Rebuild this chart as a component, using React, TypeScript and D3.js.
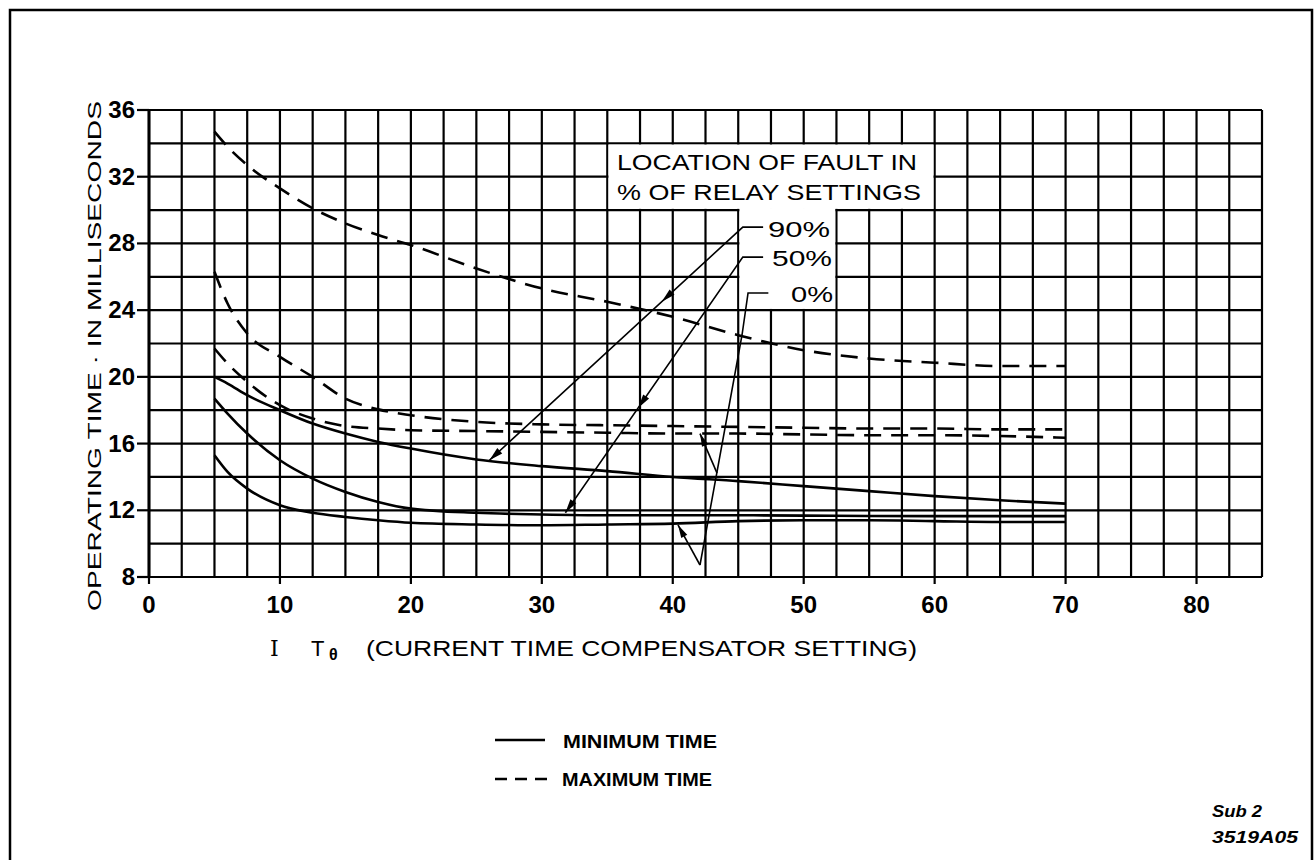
import * as d3 from 'd3'

const W = 1315
const H = 860
const FONT = '"Liberation Sans", Arial, sans-serif'

// axis ticks
const xTicks = [0, 10, 20, 30, 40, 50, 60, 70, 80]
const yTicks = [8, 12, 16, 20, 24, 28, 32, 36]

// curves: operating time (ms) against I Tθ setting
const xPts = [5, 6, 7.5, 10, 12.5, 15, 17.5, 20, 25, 30, 35, 40, 45, 50, 55, 60, 65, 70]
const min90 = [20.0, 19.6, 18.9, 18.0, 17.2, 16.6, 16.1, 15.7, 15.05, 14.65, 14.35, 14.0, 13.75, 13.45, 13.15, 12.85, 12.6, 12.4]
const min50 = [18.7, 17.8, 16.6, 15.0, 13.9, 13.1, 12.5, 12.1, 11.85, 11.75, 11.7, 11.7, 11.7, 11.68, 11.66, 11.65, 11.65, 11.65]
const min0 = [15.3, 14.3, 13.3, 12.3, 11.85, 11.6, 11.4, 11.25, 11.15, 11.1, 11.15, 11.2, 11.35, 11.4, 11.4, 11.35, 11.3, 11.3]
const max90 = [34.7, 33.8, 32.7, 31.3, 30.1, 29.2, 28.5, 27.9, 26.5, 25.3, 24.5, 23.6, 22.5, 21.6, 21.1, 20.85, 20.65, 20.65]
const max50 = [26.3, 24.4, 22.6, 21.2, 20.0, 18.7, 18.05, 17.7, 17.3, 17.15, 17.1, 17.05, 17.0, 16.95, 16.9, 16.9, 16.85, 16.85]
const max0 = [21.7, 20.8, 19.7, 18.3, 17.5, 17.05, 16.9, 16.8, 16.75, 16.7, 16.65, 16.6, 16.6, 16.55, 16.5, 16.5, 16.45, 16.35]

const solidSeries = [min90, min50, min0]
const dashedSeries = [max90, max50, max0]

// leaders for the fault location labels (data coordinates)
const leaderLabels = ['90%', '50%', '0%']
const leader90: [number, number][] = [[46.9, 28.98], [45.35, 28.98], [26.0, 15.0]]
const leader50: [number, number][] = [[46.9, 27.18], [45.35, 27.18], [31.8, 11.85]]
const leader0: [number, number][] = [[47.3, 25.03], [45.75, 25.03], [45.29, 22.51], [42.08, 8.72]]
const branch0a: [number, number][] = [[43.38, 14.23], [42.08, 16.6]]
const branch0b: [number, number][] = [[42.08, 8.72], [40.4, 11.12]]

const x = d3.scaleLinear().domain([0, 85]).range([149, 1262])
const y = d3.scaleLinear().domain([8, 36]).range([577, 110])

const line = d3
  .line<number>()
  .x((_, i) => x(xPts[i]))
  .y((d) => y(d))
  .curve(d3.curveMonotoneX)

const pathOf = (pts: [number, number][]) =>
  d3.line<[number, number]>().x((p) => x(p[0])).y((p) => y(p[1]))(pts) as string

function arrow(tip: [number, number], from: [number, number], len = 14, hw = 3.6) {
  const tx = x(tip[0])
  const ty = y(tip[1])
  const dx = tx - x(from[0])
  const dy = ty - y(from[1])
  const d = Math.hypot(dx, dy)
  const ux = dx / d
  const uy = dy / d
  const bx = tx - ux * len
  const by = ty - uy * len
  return `M${tx},${ty}L${bx - uy * hw},${by + ux * hw}L${bx + uy * hw},${by - ux * hw}Z`
}

const along = (a: [number, number], b: [number, number], t: number): [number, number] => [
  a[0] + (b[0] - a[0]) * t,
  a[1] + (b[1] - a[1]) * t,
]

export default function App() {
  const gridX = d3.range(0, 85.01, 2.5)
  const gridY = d3.range(8, 36.01, 2)

  const arrows = [
    arrow(leader90[2], leader90[1]),
    arrow(along(leader90[1], leader90[2], 0.32), leader90[1]),
    arrow(leader50[2], leader50[1]),
    arrow(along(leader50[1], leader50[2], 0.59), leader50[1]),
    arrow(branch0a[1], branch0a[0], 13, 3.4),
    arrow(branch0b[1], branch0b[0], 13, 3.4),
  ]

  return (
    <svg
      width={W}
      height={H}
      style={{ position: 'absolute', left: 0, top: 0, background: '#fff' }}
      fontFamily={FONT}
    >
      <rect x={0} y={0} width={W} height={H} fill="#fff" />
      {/* sheet frame */}
      <path d="M10,875V10H1312V875" fill="none" stroke="#000" strokeWidth={2.5} />

      {/* grid */}
      <g stroke="#000" strokeWidth={2.2}>
        {gridX.map((v) => (
          <line key={'gx' + v} x1={x(v)} x2={x(v)} y1={y(8)} y2={y(36)} />
        ))}
        {gridY.map((v) => (
          <line key={'gy' + v} x1={x(0)} x2={x(85)} y1={y(v)} y2={y(v)} />
        ))}
        {yTicks.map((v) => (
          <line key={'ty' + v} x1={x(0) - 12} x2={x(0)} y1={y(v)} y2={y(v)} />
        ))}
        {xTicks.map((v) => (
          <line key={'tx' + v} x1={x(v)} x2={x(v)} y1={y(8)} y2={y(8) + 7} />
        ))}
      </g>
      <line x1={x(0)} x2={x(0)} y1={y(36)} y2={y(8)} stroke="#000" strokeWidth={3} />

      {/* label boxes */}
      <rect
        x={x(35) + 1.2}
        y={y(34) + 1.2}
        width={x(60) - x(35) - 2.4}
        height={y(30) - y(34) - 2.4}
        fill="#fff"
      />
      <rect
        x={x(45) + 1.2}
        y={y(30) - 2}
        width={x(52.5) - x(45) - 2.4}
        height={y(24) - y(30) + 0.8}
        fill="#fff"
      />

      {/* curves */}
      <g fill="none" stroke="#000" strokeWidth={2.6}>
        {solidSeries.map((s, i) => (
          <path key={'s' + i} d={line(s) as string} />
        ))}
        {dashedSeries.map((s, i) => (
          <path key={'d' + i} d={line(s) as string} strokeDasharray="17 10" />
        ))}
      </g>

      {/* leaders */}
      <g fill="none" stroke="#000" strokeWidth={1.6}>
        <path d={pathOf(leader90)} />
        <path d={pathOf(leader50)} />
        <path d={pathOf(leader0)} />
        <path d={pathOf(branch0a)} />
        <path d={pathOf(branch0b)} />
      </g>
      <g fill="#000">
        {arrows.map((d, i) => (
          <path key={'a' + i} d={d} />
        ))}
      </g>

      {/* legend box text */}
      <g fontSize={22} fill="#000">
        <text x={617} y={170} textLength={300} lengthAdjust="spacingAndGlyphs">
          LOCATION OF FAULT  IN
        </text>
        <text x={617} y={200} textLength={304} lengthAdjust="spacingAndGlyphs">
          % OF RELAY SETTINGS
        </text>
        <text x={768} y={237} textLength={62} lengthAdjust="spacingAndGlyphs">
          {leaderLabels[0]}
        </text>
        <text x={772} y={266} textLength={60} lengthAdjust="spacingAndGlyphs">
          {leaderLabels[1]}
        </text>
        <text x={791} y={302} textLength={42} lengthAdjust="spacingAndGlyphs">
          {leaderLabels[2]}
        </text>
      </g>

      {/* tick labels */}
      <g fontSize={24} fontWeight="bold" fill="#000">
        {yTicks.map((v) => (
          <text key={'ly' + v} x={135} y={y(v) + 8} textAnchor="end">
            {v}
          </text>
        ))}
        {xTicks.map((v) => (
          <text key={'lx' + v} x={x(v)} y={613} textAnchor="middle">
            {v}
          </text>
        ))}
      </g>

      {/* axis titles */}
      <text
        transform="translate(101,356) rotate(-90)"
        textAnchor="middle"
        fontSize={19}
        textLength={510}
        lengthAdjust="spacingAndGlyphs"
      >
        OPERATING  TIME · IN  MILLISECONDS
      </text>
      <g fontSize={22} fill="#000">
        <text x={270} y={656} fontFamily='"DejaVu Serif", serif'>
          I
        </text>
        <text x={311} y={656}>T</text>
        <text x={329} y={660} fontSize={16} fontWeight="bold">
          θ
        </text>
        <text x={366} y={656} textLength={551} lengthAdjust="spacingAndGlyphs">
          (CURRENT  TIME  COMPENSATOR  SETTING)
        </text>
      </g>

      {/* line style legend */}
      <line x1={495} x2={545} y1={740} y2={740} stroke="#000" strokeWidth={2.4} />
      <line x1={495} x2={548} y1={779} y2={779} stroke="#000" strokeWidth={2.4} strokeDasharray="12 8" />
      <g fontSize={18} fontWeight="bold">
        <text x={563} y={748} textLength={154} lengthAdjust="spacingAndGlyphs">
          MINIMUM  TIME
        </text>
        <text x={562} y={786} textLength={150} lengthAdjust="spacingAndGlyphs">
          MAXIMUM  TIME
        </text>
      </g>

      {/* drawing reference */}
      <g fontSize={17} fontStyle="italic" fontWeight="bold">
        <text x={1212} y={817} textLength={50} lengthAdjust="spacingAndGlyphs">
          Sub 2
        </text>
        <text x={1212} y={843} textLength={86} lengthAdjust="spacingAndGlyphs">
          3519A05
        </text>
      </g>
    </svg>
  )
}
